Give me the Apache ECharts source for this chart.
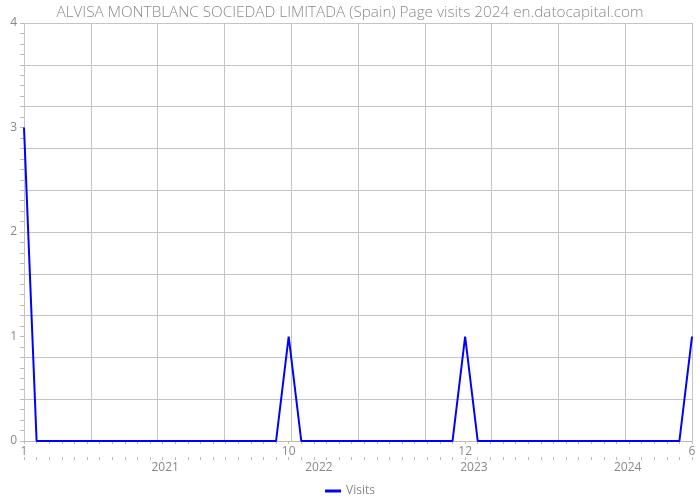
<!DOCTYPE html>
<html>
<head>
<meta charset="utf-8">
<script src="https://cdn.jsdelivr.net/npm/echarts@6/dist/echarts.min.js"></script>
<style>html,body{margin:0;padding:0;background:#fff}#c{width:700px;height:500px}</style>
</head>
<body>
<div id="c"></div>
<script>
// Monthly visits, Jan 2020 .. Jun 2024
var startYear = 2020, startMonth = 1;
var visits = [3,0,0,0,0,0,0,0,0,0,0,0,
              0,0,0,0,0,0,0,0,0,1,0,0,
              0,0,0,0,0,0,0,0,0,0,0,1,
              0,0,0,0,0,0,0,0,0,0,0,0,
              0,0,0,0,0,1];
var monthLabelIndex = [0, 21, 35, 53];
var yearLabels = ['2021', '2022', '2023', '2024'];
var yearLabelAt = [11.2, 23.4, 35.7, 47.9];
var yTickLabels = [0, 1, 2, 3, 4];

var n = visits.length;
var seriesData = visits.map(function (v, i) { return [i, v]; });
var monthTicks = [];
for (var i = 0; i < n; i++) monthTicks.push(i);
function monthOf(i) { return ((startMonth - 1 + i) % 12) + 1; }

var gray = '#888';
var font = 'Open Sans';
var chart = echarts.init(document.getElementById('c'), null, {renderer: 'canvas'});
chart.setOption({
  animation: false,
  title: {
    text: 'ALVISA MONTBLANC SOCIEDAD LIMITADA (Spain) Page visits 2024 en.datocapital.com',
    left: 'center', top: 0,
    textStyle: {color: '#8a8a8a', fontSize: 15.3, fontWeight: 300, fontFamily: font}
  },
  legend: {
    bottom: -2, left: 'center',
    itemWidth: 16, itemHeight: 3,
    textStyle: {color: gray, fontSize: 12, fontFamily: font},
    data: [{name: 'Visits', icon: 'rect'}]
  },
  grid: {left: 24, right: 8, top: 23, bottom: 59, containLabel: false},
  xAxis: [
    {
      type: 'value', min: 0, max: n - 1, interval: (n - 1) / 10,
      axisLine: {show: false}, axisTick: {show: false}, axisLabel: {show: false},
      splitLine: {show: true, lineStyle: {color: '#c4c4c4', width: 1}}
    },
    {
      type: 'value', min: 0, max: n - 1, position: 'bottom',
      axisLine: {show: true, lineStyle: {color: '#bbb'}},
      axisTick: {show: true, length: 3, customValues: monthTicks, lineStyle: {color: '#bbb'}},
      axisLabel: {show: true, color: gray, fontSize: 12, fontFamily: font, margin: 5,
        customValues: monthLabelIndex,
        formatter: function (v) { return String(monthOf(Math.round(v))); }},
      splitLine: {show: false}
    },
    {
      type: 'value', min: 0, max: n - 1, position: 'bottom', offset: 16,
      axisLine: {show: false},
      axisTick: {show: true, length: 3, customValues: monthTicks, lineStyle: {color: '#bbb'}},
      axisLabel: {show: true, color: gray, fontSize: 12, fontFamily: font, margin: 5,
        customValues: yearLabelAt,
        formatter: function (v) {
          for (var k = 0; k < yearLabelAt.length; k++) if (Math.abs(yearLabelAt[k] - v) < 1e-6) return yearLabels[k];
          return '';
        }},
      splitLine: {show: false}
    }
  ],
  yAxis: [
    {
      type: 'value', min: 0, max: 4, interval: 1, position: 'left',
      axisLine: {show: false}, axisTick: {show: false},
      axisLabel: {color: gray, fontSize: 12, fontFamily: font, margin: 7,
        customValues: yTickLabels},
      splitLine: {show: false}
    },
    {
      type: 'value', min: 0, max: 4, interval: 0.4, position: 'left',
      axisLine: {show: false},
      axisTick: {show: true, length: 4, lineStyle: {color: '#bbb'}},
      minorTick: {show: true, splitNumber: 4, length: 4, lineStyle: {color: '#bbb'}},
      axisLabel: {show: false},
      splitLine: {show: true, lineStyle: {color: '#c4c4c4', width: 1}}
    }
  ],
  series: [{
    name: 'Visits', type: 'line', xAxisIndex: 1, yAxisIndex: 0,
    data: seriesData, showSymbol: false, symbol: 'none',
    lineStyle: {color: '#0000ff', width: 2}, itemStyle: {color: '#0000ff'},
    z: 5
  }]
});
</script>
</body>
</html>
